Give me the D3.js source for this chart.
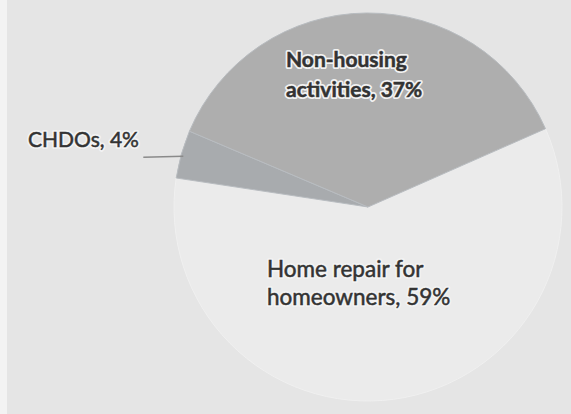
<!DOCTYPE html>
<html>
<head>
<meta charset="utf-8">
<script src="https://cdn.jsdelivr.net/npm/d3@7"></script>
<style>
  html, body { margin: 0; padding: 0; background: #e5e5e5; }
  svg { display: block; }
  .lbl { font-family: Lato, "Open Sans", sans-serif; fill: #333; }
  .halo { stroke: #f2f2f2; stroke-width: 4px; stroke-linejoin: round; fill: #f2f2f2; }
  .ink { stroke: #333; stroke-width: 0.5px; }
</style>
</head>
<body>
<script>
// Share of funds by activity
const categories = ["Home repair for homeowners", "CHDOs", "Non-housing activities"];
const shares = [59, 4, 37];
const labelLines = [
  ["Home repair for", "homeowners, 59%"],
  ["CHDOs, 4%"],
  ["Non-housing", "activities, 37%"]
];
const colors = ["#ebebeb", "#a8abae", "#aeaeae"];

const W = 571, H = 414;
const cx = 368, cy = 207, R = 194;
const firstAngle = 66.2 * Math.PI / 180;

const svg = d3.select("body").append("svg").attr("width", W).attr("height", H);
svg.append("rect").attr("width", W).attr("height", H).attr("fill", "#e5e5e5");
svg.append("rect").attr("x", 0).attr("y", 0).attr("width", 7).attr("height", H).attr("fill", "#f3f3f3");

const pie = d3.pie().sort(null).value(d => d)
  .startAngle(firstAngle).endAngle(firstAngle + 2 * Math.PI);
const arcs = pie(shares);
const arc = d3.arc().innerRadius(0).outerRadius(R);

const g = svg.append("g").attr("transform", `translate(${cx},${cy})`);
g.selectAll("path.slice").data(arcs).enter().append("path")
  .attr("class", "slice")
  .attr("d", arc)
  .attr("fill", (d, i) => colors[i])
  .attr("stroke", (d, i) => i === 0 ? "#f0f0f0" : "#b8bcc0")
  .attr("stroke-width", 1);

// leader line for the thin slice
const chd = arcs[1];
const midA = (chd.startAngle + chd.endAngle) / 2;
const edge = [Math.sin(midA) * R, -Math.cos(midA) * R];
g.append("path")
  .attr("d", d3.line()([[edge[0] + 2, edge[1] + 2], [edge[0] - 38, edge[1] + 3]]))
  .attr("stroke", "#8a8a8a").attr("stroke-width", 1.5).attr("fill", "none");

// label positions and sizes, relative to chart centre
const labelPos = [
  { x: 267 - cx, y: 277 - cy, size: 22.5, bold: false, gap: 28 },
  { x: 28 - cx, y: 147 - cy, size: 21, bold: false, gap: 0 },
  { x: 286 - cx, y: 67 - cy, size: 21, bold: true, gap: 30 }
];

arcs.forEach((d, i) => {
  const p = labelPos[i];
  ["halo", "ink"].forEach(cls => {
    const t = g.append("text").attr("class", "lbl " + cls)
      .attr("x", p.x).attr("y", p.y)
      .style("font-size", p.size + "px")
      .style("font-weight", p.bold ? "bold" : "normal");
    labelLines[i].forEach((ln, j) => {
      t.append("tspan").attr("x", p.x).attr("dy", j === 0 ? 0 : p.gap).text(ln);
    });
  });
});
</script>
</body>
</html>
